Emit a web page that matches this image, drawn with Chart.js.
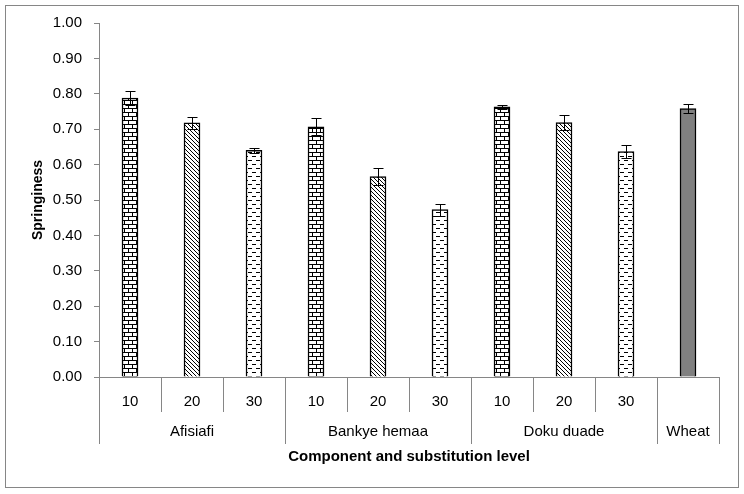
<!DOCTYPE html>
<html>
<head>
<meta charset="utf-8">
<script src="https://cdn.jsdelivr.net/npm/chart.js@4.4.0/dist/chart.umd.min.js"></script>
<style>
  html, body { margin: 0; padding: 0; background: #ffffff; }
  #box { width: 744px; height: 494px; }
</style>
</head>
<body>
<div id="box"><canvas id="springChart" width="744" height="494"></canvas></div>
<script>
// data
const groups = ['Afisiafi', 'Bankye hemaa', 'Doku duade', 'Wheat'];
const groupSizes = [3, 3, 3, 1];
const levels = ['10', '20', '30', '10', '20', '30', '10', '20', '30', ''];
const springiness = [0.788, 0.718, 0.640, 0.707, 0.566, 0.473, 0.763, 0.719, 0.637, 0.758];
const stdErrors = [0.019, 0.017, 0.006, 0.024, 0.023, 0.017, 0.005, 0.022, 0.018, 0.012];
const fillKinds = ['brick', 'diagonal', 'dash', 'brick', 'diagonal', 'dash', 'brick', 'diagonal', 'dash', 'solid'];

const FONT = '"Liberation Sans", Arial, sans-serif';
const AXIS_GREY = '#868686';

function makePattern(kind) {
    if (kind === 'solid') return '#808080';
    const c = document.createElement('canvas');
    c.width = 8;
    c.height = 8;
    const g = c.getContext('2d');
    g.fillStyle = '#ffffff';
    g.fillRect(0, 0, 8, 8);
    g.fillStyle = '#000000';
    if (kind === 'brick') {
        g.fillRect(0, 0, 8, 1);
        g.fillRect(0, 4, 8, 1);
        g.fillRect(0, 1, 1, 3);
        g.fillRect(4, 5, 1, 3);
    } else if (kind === 'diagonal') {
        for (let i = 0; i < 8; i++) {
            g.fillRect(i, i, 1, 1);
            g.fillRect((i + 4) % 8, i, 1, 1);
        }
    } else if (kind === 'dash') {
        g.fillRect(0, 0, 4, 1);
        g.fillRect(4, 4, 4, 1);
    }
    return g.createPattern(c, 'repeat');
}

// error bars, group labels and separators under the x axis, outer frame
const extrasPlugin = {
    id: 'extras',
    afterDatasetsDraw(chart) {
        const ctx = chart.ctx;
        const y = chart.scales.y;
        const meta = chart.getDatasetMeta(0);
        ctx.save();
        ctx.strokeStyle = '#000000';
        ctx.lineWidth = 1;
        meta.data.forEach((bar, i) => {
            const x = Math.round(bar.x) + 0.5;
            const top = Math.round(y.getPixelForValue(springiness[i] + stdErrors[i])) + 0.5;
            const bot = Math.round(y.getPixelForValue(springiness[i] - stdErrors[i])) + 0.5;
            ctx.beginPath();
            ctx.moveTo(x, top);
            ctx.lineTo(x, bot);
            ctx.moveTo(x - 5, top);
            ctx.lineTo(x + 5, top);
            ctx.moveTo(x - 5, bot);
            ctx.lineTo(x + 5, bot);
            ctx.stroke();
        });
        ctx.restore();
    },
    afterDraw(chart) {
        const ctx = chart.ctx;
        const xs = chart.scales.x;
        const area = chart.chartArea;
        const step = (area.right - area.left) / levels.length;
        ctx.save();
        ctx.strokeStyle = AXIS_GREY;
        ctx.lineWidth = 1;
        // separators
        const groupEdges = [0];
        groupSizes.forEach(n => groupEdges.push(groupEdges[groupEdges.length - 1] + n));
        for (let k = 0; k <= levels.length; k++) {
            const x = Math.round(area.left + k * step) + 0.5;
            const long = groupEdges.includes(k);
            ctx.beginPath();
            ctx.moveTo(x, area.bottom);
            ctx.lineTo(x, area.bottom + (long ? 67 : 35));
            ctx.stroke();
        }
        // group names
        ctx.fillStyle = '#000000';
        ctx.font = '15px ' + FONT;
        ctx.textAlign = 'center';
        ctx.textBaseline = 'middle';
        groups.forEach((name, gi) => {
            const cx = (xs.getPixelForValue(groupEdges[gi]) + xs.getPixelForValue(groupEdges[gi + 1] - 1)) / 2;
            ctx.fillText(name, cx, 432);
        });
        // frame
        ctx.strokeRect(5.5, 5.5, 733, 482);
        ctx.restore();
    }
};

const ctx = document.getElementById('springChart').getContext('2d');
new Chart(ctx, {
    type: 'bar',
    data: {
        labels: levels,
        datasets: [{
            data: springiness,
            backgroundColor: fillKinds.map(makePattern),
            borderColor: '#000000',
            borderWidth: 1.5,
            barThickness: 16
        }]
    },
    options: {
        responsive: false,
        animation: false,
        layout: {
            padding: { left: 5, top: 23, right: 25, bottom: 6 }
        },
        plugins: {
            legend: { display: false },
            tooltip: { enabled: false }
        },
        scales: {
            x: {
                grid: { display: false, drawTicks: false },
                border: { color: AXIS_GREY, width: 1 },
                ticks: {
                    color: '#000000',
                    padding: 16,
                    font: { family: FONT, size: 15 }
                },
                title: {
                    display: true,
                    text: 'Component and substitution level',
                    color: '#000000',
                    font: { family: FONT, size: 15, weight: 'bold' },
                    padding: { top: 0, bottom: 22 }
                },
                afterFit(scale) { scale.height = 111; }
            },
            y: {
                min: 0,
                max: 1,
                grid: { drawOnChartArea: false, tickLength: 5, color: AXIS_GREY },
                border: { color: AXIS_GREY, width: 1 },
                ticks: {
                    stepSize: 0.1,
                    color: '#000000',
                    padding: 12,
                    font: { family: FONT, size: 15 },
                    callback: v => Number(v).toFixed(2)
                },
                title: {
                    display: true,
                    text: 'Springiness',
                    color: '#000000',
                    font: { family: FONT, size: 14, weight: 'bold' },
                    padding: { top: 25, bottom: 0 }
                },
                afterFit(scale) { scale.width = 94; }
            }
        }
    },
    plugins: [extrasPlugin]
});
</script>
</body>
</html>
